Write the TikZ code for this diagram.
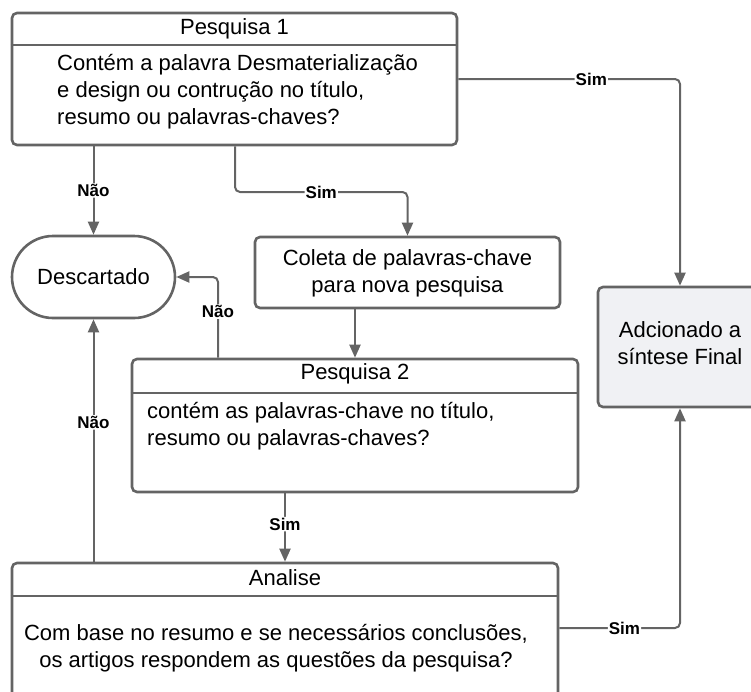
\documentclass[tikz,border=0pt]{standalone}
\usepackage{fontspec}
\setmainfont{Liberation Sans}
\usetikzlibrary{arrows.meta}
\definecolor{lc}{HTML}{646464}
\definecolor{adcfill}{HTML}{F0F1F4}
\tikzset{
  box/.style={draw=lc, line width=2.6pt, rounded corners=5pt, inner sep=0pt},
  body/.style={font=\fontsize{22}{27}\selectfont, inner sep=0pt, text=black},
  conn/.style={draw=lc, line width=2pt, rounded corners=5pt},
  arr/.style={conn, -{Triangle[length=13pt,width=11pt]}},
  lbl/.style={fill=white, inner sep=1pt, font=\fontsize{17}{18}\selectfont\bfseries, text=black},
}
\begin{document}
\begin{tikzpicture}[x=1pt,y=-1pt]
\useasboundingbox (0,0) rectangle (751,691);
\begin{scope}
\clip (0,0) rectangle (751,691);
% Pesquisa 1
\node[box, minimum width=445pt, minimum height=132pt] (p1) at (234.5,79) {};
\draw[draw=lc, line width=2.6pt] (p1.west |- 0,45) -- (p1.east |- 0,45);
\node[body] (p1t) at (234.5,29) {Pesquisa 1};
\node[body, align=left, anchor=west] (p1b) at (57,92) {Contém a palavra Desmaterialização\\e design ou contrução no título,\\resumo ou palavras-chaves?};
% Descartado
\node[box, rounded corners=41pt, minimum width=163pt, minimum height=82pt] (desc) at (93.5,277) {};
\node[body] (desct) at (93.5,277) {Descartado};
% Coleta
\node[box, minimum width=305pt, minimum height=71pt] (col) at (407.5,272.5) {};
\node[body, align=center] (colt) at (407.5,273.5) {Coleta de palavras-chave\\para nova pesquisa};
% Pesquisa 2
\node[box, minimum width=446pt, minimum height=133pt] (p2) at (355,425.5) {};
\draw[draw=lc, line width=2.6pt] (p2.west |- 0,393) -- (p2.east |- 0,393);
\node[body] (p2t) at (355,374) {Pesquisa 2};
\node[body, align=left, anchor=west] (p2b) at (147,426.5) {contém as palavras-chave no título,\\resumo ou palavras-chaves?};
% Analise
\node[box, minimum width=546pt, minimum height=150pt] (an) at (285,638) {};
\draw[draw=lc, line width=2.6pt] (an.west |- 0,596) -- (an.east |- 0,596);
\node[body] (ant) at (285,578) {Analise};
\node[body, align=center] (anb) at (276,648.5) {Com base no resumo e se necessários conclusões,\\os artigos respondem as questões da pesquisa?};
% Adcionado
\node[box, fill=adcfill, minimum width=164pt, minimum height=120pt] (adc) at (680,347) {};
\node[body, align=center] (adct) at (680,343.5) {Adcionado a\\síntese Final};
\end{scope}
% junction coordinates
\coordinate (j1) at (235,192);
\coordinate (j2) at (218,0);
\coordinate (j3) at (680,628);
% connectors
\draw[arr] (p1.south -| desc.north) -- node[lbl, pos=0.5] (l1) {Não} (desc.north);
\draw[arr] (p1.south -| j1) -- (j1) -- node[lbl, pos=0.5] (l2) {Sim} (j1 -| col.north) -- (col.north);
\draw[arr] (p1.east) -- node[lbl, pos=0.6] (l3) {Sim} (p1.east -| adc.north) -- (adc.north);
\draw[arr] (col.south -| p2.north) -- (p2.north);
\draw[arr] (p2.north -| j2) -- node[lbl, pos=0.57] (l4) {Não} (j2 |- desc.east) -- (desc.east);
\draw[arr] (p2.south -| an.north) -- node[lbl, pos=0.45] (l5) {Sim} (an.north);
\draw[arr] (an.north -| desc.south) -- node[lbl, pos=0.575] (l6) {Não} (desc.south);
\draw[arr] (an.east |- j3) -- node[lbl, pos=0.54] (l7) {Sim} (j3) -- (adc.south);
\end{tikzpicture}
\end{document}
